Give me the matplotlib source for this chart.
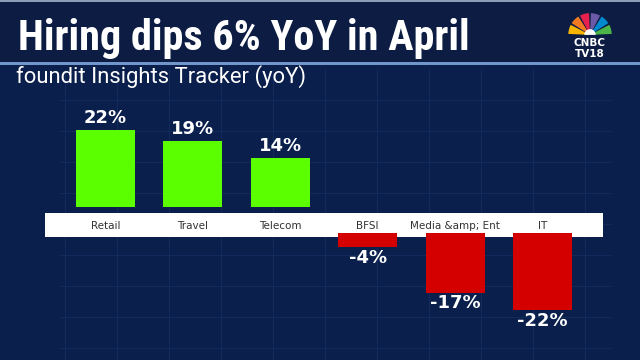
import numpy as np
import matplotlib.pyplot as plt
from matplotlib import font_manager
from matplotlib.patches import Rectangle, Wedge

# data
categories = ['Retail', 'Travel', 'Telecom', 'BFSI', 'Media &amp; Ent', 'IT']
values = [22, 19, 14, -4, -17, -22]
labels = ['22%', '19%', '14%', '-4%', '-17%', '-22%']

title = 'Hiring dips 6% YoY in April'
subtitle = 'foundit Insights Tracker (yoY)'

bg = '#0a1f4b'
head_bg = '#0c1c42'
green = '#5cff00'
red = '#d40000'

installed = {f.name for f in font_manager.fontManager.ttflist}
title_font = 'Liberation Sans'
for name in ['Liberation Sans Narrow', 'Roboto Condensed', 'Open Sans Condensed', 'Liberation Sans']:
    if name in installed:
        title_font = name
        break

fig = plt.figure(figsize=(6.4, 3.6), dpi=100)
fig.patch.set_facecolor(bg)

# background layer in pixel coordinates
bax = fig.add_axes([0, 0, 1, 1], zorder=-1)
bax.set_xlim(0, 640)
bax.set_ylim(360, 0)
bax.axis('off')
bax.add_patch(Rectangle((0, 0), 640, 62, facecolor=head_bg, edgecolor='none'))
bax.add_patch(Rectangle((0, 62), 640, 2.5, facecolor='#7196cc', edgecolor='none'))
bax.add_patch(Rectangle((0, 0), 640, 2, facecolor='#8a9cb8', edgecolor='none'))
for gx in range(65, 620, 52):
    bax.plot([gx, gx], [70, 360], color='#1a3469', lw=0.6, alpha=0.7)
for gy in range(100, 360, 31):
    bax.plot([60, 610], [gy, gy], color='#1a3469', lw=0.6, alpha=0.7)

t1 = fig.text(18 / 640, 1 - 50 / 360, title, color='white', fontsize=30, fontweight='bold',
              family=title_font, va='baseline', ha='left')
t2 = fig.text(16 / 640, 1 - 83 / 360, subtitle, color='white', fontsize=13,
              family='Roboto', va='baseline', ha='left')

# fit the header texts to the reference widths
fig.canvas.draw()
r = fig.canvas.get_renderer()
for t, w in [(t1, 452), (t2, 289)]:
    cur = t.get_window_extent(r).width
    t.set_fontsize(t.get_fontsize() * w / cur)

# CNBC TV18 logo (simple peacock)
lax = fig.add_axes([562 / 640, 1 - 60 / 360, 56 / 640, 48 / 360])
lax.set_xlim(-1, 1)
lax.set_ylim(-1.15, 0.95)
lax.set_aspect('equal')
lax.axis('off')
feather_cols = ['#f7b500', '#f47920', '#e7204e', '#6b5ba6', '#0089cf', '#4cb748']
for k, c in enumerate(feather_cols):
    a0 = 180 - k * 30
    lax.add_patch(Wedge((0, -0.05), 0.95, a0 - 30 + 2.5, a0 - 2.5, facecolor=c, edgecolor='none'))
lax.add_patch(Wedge((0, -0.05), 0.25, 0, 180, facecolor='white', edgecolor='none'))
lax.text(0, -0.4, 'CNBC', color='white', fontsize=7.5, fontweight='bold', ha='center', va='center')
lax.text(0, -0.88, 'TV18', color='white', fontsize=7.5, fontweight='bold', ha='center', va='center')

# main chart axes, one data unit = 3.5 px vertically
ax = fig.add_axes([0, 0, 1, 1])
ax.patch.set_alpha(0)
ax.axis('off')
step = 87.4
ax.set_xlim(-105.5 / step, (640 - 105.5) / step)
ax.set_ylim(-140 / 3.5, 220 / 3.5)

gap = 13 / 3.5
x = np.arange(len(categories))
vals = np.array(values)
bottoms = np.where(vals > 0, gap, -gap)
colors = [green if v > 0 else red for v in vals]

# white label band
ax.add_patch(Rectangle((-0.692, -4.86), 6.384, 6.86, facecolor='white', edgecolor='none', zorder=2))
ax.bar(x, vals, bottom=bottoms, width=0.675, color=colors, zorder=3)

for xi, v, b, cat, lab in zip(x, vals, bottoms, categories, labels):
    ax.text(xi, -1.6, cat, color='#333333', fontsize=7.5, ha='center', va='center', zorder=4)
    if v > 0:
        ax.text(xi, b + v + 0.8, lab, color='white', fontsize=13, fontweight='bold',
                ha='center', va='bottom', zorder=4)
    else:
        ax.text(xi, b + v - 0.5, lab, color='white', fontsize=13, fontweight='bold',
                ha='center', va='top', zorder=4)

plt.savefig('out.png', dpi=100, facecolor=fig.get_facecolor())
